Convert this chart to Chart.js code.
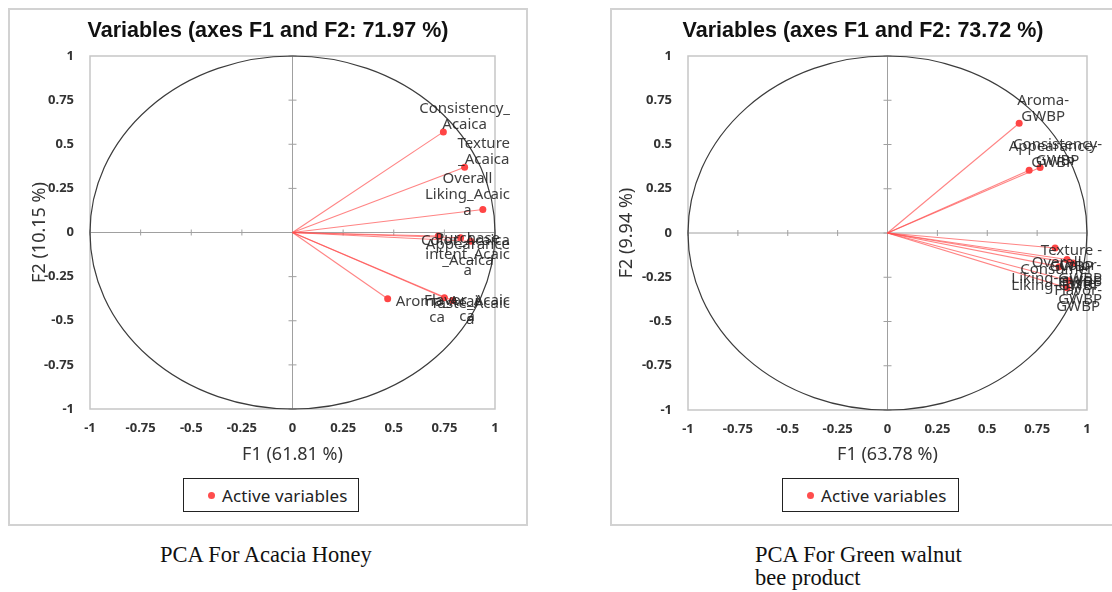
<!DOCTYPE html>
<html><head><meta charset="utf-8">
<script src="https://cdn.jsdelivr.net/npm/chart.js@4"></script>
<style>
body{margin:0;background:#fff;width:1112px;height:592px;position:relative;overflow:hidden;font-family:'Noto Sans',sans-serif}
.frame{position:absolute;border:2px solid #d2d2d2;box-sizing:border-box}
canvas{position:absolute}
.legend{position:absolute;border:1.5px solid #222;box-sizing:border-box;font:17px 'Noto Sans';color:#222;display:flex;align-items:center;justify-content:flex-start;letter-spacing:0.1px}
.dot{display:inline-block;width:7px;height:7px;border-radius:50%;background:#ff4d4d;margin-right:7px}
.caption{position:absolute;font:22.5px 'Liberation Serif';color:#111;line-height:23px}
</style></head>
<body>
<div class="frame" style="left:8px;top:8px;width:520px;height:518px"></div>
<div class="frame" style="left:610px;top:8px;width:520px;height:518px"></div>
<canvas id="c1" width="520" height="465" style="left:8px;top:8px"></canvas>
<canvas id="c2" width="506" height="465" style="left:610px;top:8px"></canvas>
<div class="legend" style="left:183px;top:478px;width:176px;height:34px;padding-left:24px"><span class="dot"></span>Active variables</div>
<div class="legend" style="left:782px;top:478px;width:177px;height:34px;padding-left:24px"><span class="dot"></span>Active variables</div>
<div class="caption" style="left:160px;top:543px">PCA For Acacia Honey</div>
<div class="caption" style="left:755px;top:543px">PCA For Green walnut<br>bee product</div>
<script>
// ---- data ----
const tickValues = [-1, -0.75, -0.5, -0.25, 0, 0.25, 0.5, 0.75, 1];
const tickLabels = ['-1', '-0.75', '-0.5', '-0.25', '0', '0.25', '0.5', '0.75', '1'];

const acaciaTitle = 'Variables (axes F1 and F2: 71.97 %)';
const acaciaXTitle = 'F1 (61.81 %)';
const acaciaYTitle = 'F2 (10.15 %)';
const acaciaLabels = ['Consistency_\nAcaica', 'Texture\n_Acaica', 'Overall\nLiking_Acaic\na',
  'Purchase\nintent_Acaic\na', 'Color_Acaica', 'Appearance\n_Acaica',
  'Aroma_Acai\nca', 'Flavor_Acaic\nca', 'Taste_Acaic\na'];
const acaciaF1 = [0.745, 0.85, 0.94, 0.72, 0.83, 0.88, 0.47, 0.75, 0.79];
const acaciaF2 = [0.57, 0.37, 0.13, -0.02, -0.03, -0.05, -0.375, -0.37, -0.385];

const gwbpTitle = 'Variables (axes F1 and F2: 73.72 %)';
const gwbpXTitle = 'F1 (63.78 %)';
const gwbpYTitle = 'F2 (9.94 %)';
const gwbpLabels = ['Aroma-\nGWBP', 'Appearance-\nGWBP', 'Consistency-\nGWBP',
  'Texture -\nGWBP', 'Overall\nLiking-GWBP', 'Color-\nGWBP', 'Consumer\nLiking-GWBP',
  'Taste-\nGWBP', 'Flavor-\nGWBP'];
const gwbpF1 = [0.66, 0.71, 0.765, 0.84, 0.90, 0.93, 0.86, 0.91, 0.90];
const gwbpF2 = [0.62, 0.355, 0.37, -0.085, -0.15, -0.17, -0.19, -0.27, -0.31];

// ---- drawing helpers ----
const pcaPlugin = {
  id: 'pca',
  beforeDatasetsDraw(chart) {
    const {ctx, chartArea: a, scales: {x, y}} = chart;
    ctx.save();
    ctx.strokeStyle = '#c6c6c6'; ctx.lineWidth = 1.5;
    ctx.strokeRect(a.left, a.top, a.width, a.height);
    const x0 = x.getPixelForValue(0), y0 = y.getPixelForValue(0);
    ctx.strokeStyle = '#a0a0a0'; ctx.lineWidth = 1;
    ctx.beginPath();
    ctx.moveTo(a.left, y0); ctx.lineTo(a.right, y0);
    ctx.moveTo(x0, a.top); ctx.lineTo(x0, a.bottom);
    tickValues.forEach(v => {
      const px = x.getPixelForValue(v), py = y.getPixelForValue(v);
      ctx.moveTo(px, y0 - 3); ctx.lineTo(px, y0 + 3);
      ctx.moveTo(x0 - 4, py); ctx.lineTo(x0 + 4, py);
    });
    ctx.stroke();
    ctx.strokeStyle = '#3c3c3c'; ctx.lineWidth = 1.2;
    ctx.beginPath();
    ctx.ellipse(x0, y0, x.getPixelForValue(1) - x0, y0 - y.getPixelForValue(1), 0, 0, 2 * Math.PI);
    ctx.stroke();
    ctx.restore();
  },
  afterDatasetsDraw(chart, args, opts) {
    const {ctx, chartArea: a} = chart;
    ctx.save();
    ctx.font = '15px "Noto Sans"';
    ctx.fillStyle = 'rgba(35,35,35,0.88)';
    ctx.textAlign = 'center'; ctx.textBaseline = 'middle';
    const lh = 16;
    opts.labels.forEach((lab, i) => {
      const pt = chart.getDatasetMeta(i).data[1];
      const lines = lab.split('\n');
      const w = Math.max(...lines.map(t => ctx.measureText(t).width));
      const v = chart.data.datasets[i].data[1];
      let cx, fy;
      if (v.y >= 0) { cx = pt.x + 24; fy = pt.y - 15 - (lines.length - 1) * lh / 2; }
      else { cx = pt.x + 8 + w / 2; fy = pt.y + 3; }
      const maxR = a.right + 15;
      if (cx + w / 2 > maxR) cx = maxR - w / 2;
      lines.forEach((t, k) => ctx.fillText(t, cx, fy + k * lh));
    });
    ctx.restore();
  }
};

function makeChart(id, title, xTitle, yTitle, labels, f1, f2, geo) {
  const datasets = labels.map((l, i) => ({
    label: l,
    data: [{x: 0, y: 0}, {x: f1[i], y: f2[i]}],
    showLine: true,
    borderColor: 'rgba(255,80,80,0.7)',
    borderWidth: 1.1,
    pointRadius: [0, 3.5],
    pointBackgroundColor: '#ff4545',
    pointBorderWidth: 0
  }));
  const tickFmt = v => { const k = tickValues.findIndex(t => Math.abs(t - v) < 1e-9); return k >= 0 ? tickLabels[k] : ''; };
  new Chart(document.getElementById(id), {
    type: 'scatter',
    data: {datasets},
    plugins: [pcaPlugin],
    options: {
      responsive: false, animation: false,
      layout: {padding: 0},
      plugins: {
        legend: {display: false}, tooltip: {enabled: false},
        title: {display: true, text: title, color: '#111',
          font: {family: 'Liberation Sans', size: 21.5, weight: 'bold', lineHeight: 1.2},
          padding: {top: 10, bottom: 12.2}},
        pca: {labels}
      },
      scales: {
        x: {type: 'linear', min: -1, max: 1,
          afterBuildTicks: s => { s.ticks = tickValues.map(v => ({value: v})); },
          afterFit: s => { s.height = geo.xh; },
          grid: {display: false, drawTicks: false}, border: {display: false},
          ticks: {callback: tickFmt, padding: 11, color: '#333', maxRotation: 0,
            font: {family: 'Noto Sans', size: 13, weight: 'bold'}},
          title: {display: true, text: xTitle, color: '#333', padding: {top: 0, bottom: 7},
            font: {family: 'Noto Sans', size: 18, lineHeight: 1.2}}
        },
        y: {type: 'linear', min: -1, max: 1,
          afterBuildTicks: s => { s.ticks = tickValues.map(v => ({value: v})); },
          afterFit: s => { s.width = geo.yw; },
          grid: {display: false, drawTicks: false}, border: {display: false},
          ticks: {callback: tickFmt, padding: 16, color: '#333',
            font: {family: 'Noto Sans', size: 13, weight: 'bold'}},
          title: {display: true, text: yTitle, color: '#333', padding: {top: geo.yt, bottom: 0},
            font: {family: 'Noto Sans', size: 18, lineHeight: 1.2}}
        },
        yr: {type: 'linear', position: 'right', display: true, min: -1, max: 1,
          afterFit: s => { s.width = geo.right; },
          grid: {display: false, drawTicks: false}, border: {display: false},
          ticks: {display: false}, title: {display: false}
        }
      }
    }
  });
}

makeChart('c1', acaciaTitle, acaciaXTitle, acaciaYTitle, acaciaLabels, acaciaF1, acaciaF2,
  {right: 33, xh: 64, yw: 82, yt: 21});
makeChart('c2', gwbpTitle, gwbpXTitle, gwbpYTitle, gwbpLabels, gwbpF1, gwbpF2,
  {right: 29, xh: 63, yw: 78, yt: 6});
</script>
</body></html>
